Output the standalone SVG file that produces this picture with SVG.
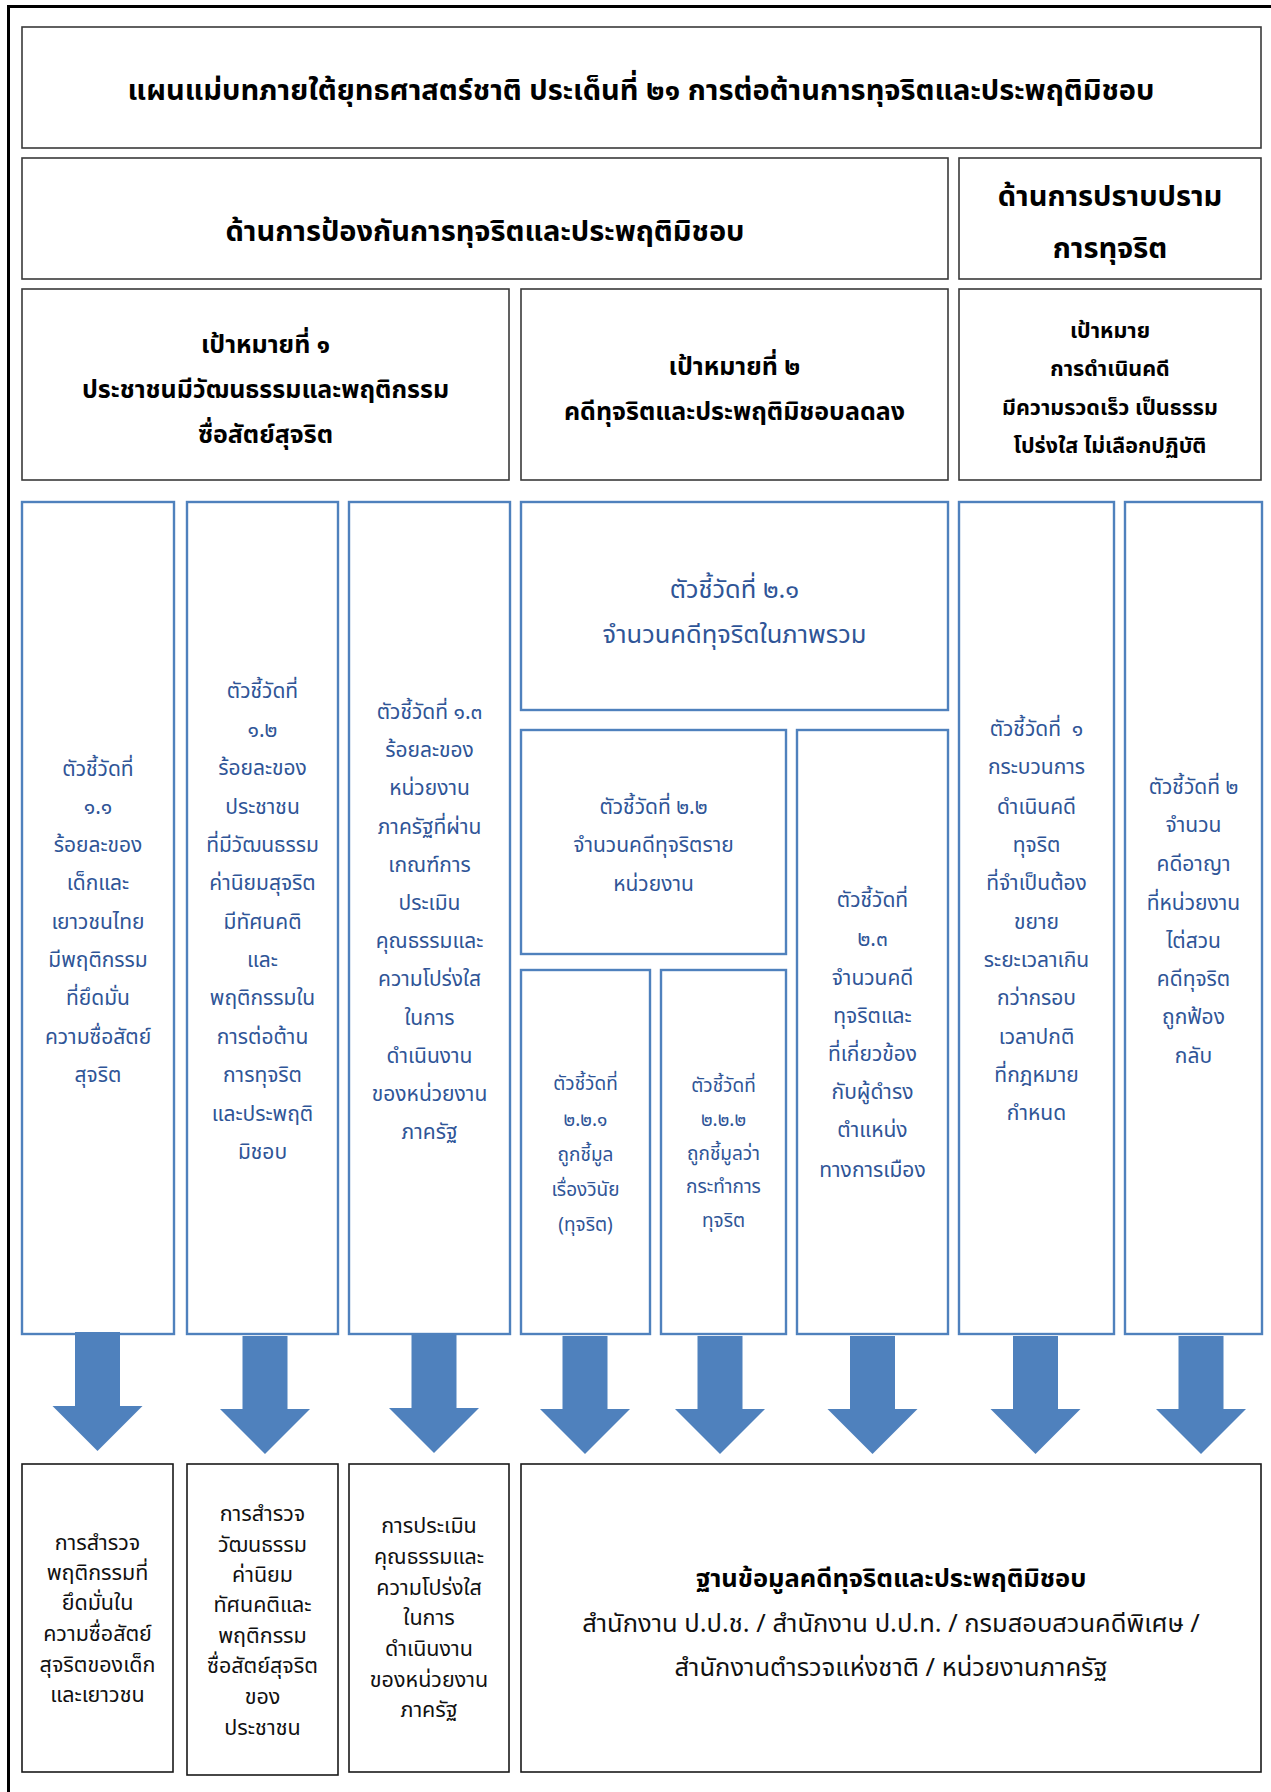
<svg xmlns="http://www.w3.org/2000/svg" width="1271" height="1792" viewBox="0 0 1271 1792">
<style>
.hb{fill:#fff;stroke:#3a3a3a;stroke-width:1.6}
.bb{fill:#fff;stroke:#4f81bd;stroke-width:2.4}
.kb{fill:#fff;stroke:#1a1a1a;stroke-width:1.6}
text{font-family:"Noto Sans Thai","Noto Sans",sans-serif;text-anchor:middle}
.h{fill:#000;font-weight:bold}
.t{fill:#2f5597;font-size:21px}
.k{fill:#111;font-size:21.5px}
.arr{fill:#4f81bd}
</style>
<rect width="1271" height="1792" fill="#fff"/>
<path d="M8.5,1792 V6.5 H1271" fill="none" stroke="#000" stroke-width="3"/>

<g id="title">
<rect class="hb" x="22" y="27" width="1239" height="121"/>
<text class="h" x="641" y="100" font-size="29">แผนแม่บทภายใต้ยุทธศาสตร์ชาติ ประเด็นที่ ๒๑ การต่อต้านการทุจริตและประพฤติมิชอบ</text>
</g>

<g id="prevention">
<rect class="hb" x="22" y="158" width="926" height="121"/>
<text class="h" x="485" y="241" font-size="29">ด้านการป้องกันการทุจริตและประพฤติมิชอบ</text>
</g>

<g id="suppression">
<rect class="hb" x="959" y="158" width="302" height="121"/>
<text class="h" x="1110" y="206" font-size="29">ด้านการปราบปราม</text>
<text class="h" x="1110" y="258" font-size="29">การทุจริต</text>
</g>

<g id="goal1">
<rect class="hb" x="22" y="289" width="487" height="191"/>
<text class="h" font-size="25"><tspan x="265.5" y="353">เป้าหมายที่ ๑</tspan><tspan x="265.5" y="398">ประชาชนมีวัฒนธรรมและพฤติกรรม</tspan><tspan x="265.5" y="443">ซื่อสัตย์สุจริต</tspan></text>
</g>

<g id="goal2">
<rect class="hb" x="521" y="289" width="427" height="191"/>
<text class="h" font-size="25"><tspan x="734.5" y="375">เป้าหมายที่ ๒</tspan><tspan x="734.5" y="420">คดีทุจริตและประพฤติมิชอบลดลง</tspan></text>
</g>

<g id="goal3">
<rect class="hb" x="959" y="289" width="302" height="191"/>
<text class="h" font-size="21.5"><tspan x="1110" y="338">เป้าหมาย</tspan><tspan x="1110" y="376">การดำเนินคดี</tspan><tspan x="1110" y="415">มีความรวดเร็ว เป็นธรรม</tspan><tspan x="1110" y="453">โปร่งใส ไม่เลือกปฏิบัติ</tspan></text>
</g>

<g id="ind11">
<rect class="bb" x="22" y="502" width="152" height="832"/>
<text class="t"><tspan x="98" y="776">ตัวชี้วัดที่</tspan><tspan x="98" y="814">๑.๑</tspan><tspan x="98" y="852">ร้อยละของ</tspan><tspan x="98" y="890">เด็กและ</tspan><tspan x="98" y="929">เยาวชนไทย</tspan><tspan x="98" y="967">มีพฤติกรรม</tspan><tspan x="98" y="1005">ที่ยึดมั่น</tspan><tspan x="98" y="1044">ความซื่อสัตย์</tspan><tspan x="98" y="1082">สุจริต</tspan></text>
</g>

<g id="ind12">
<rect class="bb" x="187" y="502" width="151" height="832"/>
<text class="t"><tspan x="262.5" y="698">ตัวชี้วัดที่</tspan><tspan x="262.5" y="737">๑.๒</tspan><tspan x="262.5" y="775">ร้อยละของ</tspan><tspan x="262.5" y="814">ประชาชน</tspan><tspan x="262.5" y="852">ที่มีวัฒนธรรม</tspan><tspan x="262.5" y="890">ค่านิยมสุจริต</tspan><tspan x="262.5" y="929">มีทัศนคติ</tspan><tspan x="262.5" y="967">และ</tspan><tspan x="262.5" y="1005">พฤติกรรมใน</tspan><tspan x="262.5" y="1044">การต่อต้าน</tspan><tspan x="262.5" y="1082">การทุจริต</tspan><tspan x="262.5" y="1121">และประพฤติ</tspan><tspan x="262.5" y="1159">มิชอบ</tspan></text>
</g>

<g id="ind13">
<rect class="bb" x="349" y="502" width="161" height="832"/>
<text class="t"><tspan x="429.5" y="719">ตัวชี้วัดที่ ๑.๓</tspan><tspan x="429.5" y="757">ร้อยละของ</tspan><tspan x="429.5" y="795">หน่วยงาน</tspan><tspan x="429.5" y="834">ภาครัฐที่ผ่าน</tspan><tspan x="429.5" y="872">เกณฑ์การ</tspan><tspan x="429.5" y="910">ประเมิน</tspan><tspan x="429.5" y="948">คุณธรรมและ</tspan><tspan x="429.5" y="986">ความโปร่งใส</tspan><tspan x="429.5" y="1025">ในการ</tspan><tspan x="429.5" y="1063">ดำเนินงาน</tspan><tspan x="429.5" y="1101">ของหน่วยงาน</tspan><tspan x="429.5" y="1139">ภาครัฐ</tspan></text>
</g>

<g id="ind21">
<rect class="bb" x="521" y="502" width="427" height="208"/>
<text class="t" style="font-size:25.5px"><tspan x="734.5" y="598">ตัวชี้วัดที่ ๒.๑</tspan><tspan x="734.5" y="643">จำนวนคดีทุจริตในภาพรวม</tspan></text>
</g>

<g id="ind22">
<rect class="bb" x="521" y="730" width="265" height="224"/>
<text class="t"><tspan x="653.5" y="814">ตัวชี้วัดที่ ๒.๒</tspan><tspan x="653.5" y="852">จำนวนคดีทุจริตราย</tspan><tspan x="653.5" y="891">หน่วยงาน</tspan></text>
</g>

<g id="ind221">
<rect class="bb" x="521" y="970" width="129" height="364"/>
<text class="t" style="font-size:19px"><tspan x="585.5" y="1090">ตัวชี้วัดที่</tspan><tspan x="585.5" y="1126">๒.๒.๑</tspan><tspan x="585.5" y="1161">ถูกชี้มูล</tspan><tspan x="585.5" y="1196">เรื่องวินัย</tspan><tspan x="585.5" y="1231">(ทุจริต)</tspan></text>
</g>

<g id="ind222">
<rect class="bb" x="661" y="970" width="125" height="364"/>
<text class="t" style="font-size:19px"><tspan x="723.5" y="1092">ตัวชี้วัดที่</tspan><tspan x="723.5" y="1126">๒.๒.๒</tspan><tspan x="723.5" y="1160">ถูกชี้มูลว่า</tspan><tspan x="723.5" y="1193">กระทำการ</tspan><tspan x="723.5" y="1227">ทุจริต</tspan></text>
</g>

<g id="ind23">
<rect class="bb" x="797" y="730" width="151" height="604"/>
<text class="t"><tspan x="872.5" y="907">ตัวชี้วัดที่</tspan><tspan x="872.5" y="946">๒.๓</tspan><tspan x="872.5" y="985">จำนวนคดี</tspan><tspan x="872.5" y="1023">ทุจริตและ</tspan><tspan x="872.5" y="1061">ที่เกี่ยวข้อง</tspan><tspan x="872.5" y="1099">กับผู้ดำรง</tspan><tspan x="872.5" y="1137">ตำแหน่ง</tspan><tspan x="872.5" y="1177">ทางการเมือง</tspan></text>
</g>

<g id="indS1">
<rect class="bb" x="959" y="502" width="155" height="832"/>
<text class="t"><tspan x="1036.5" y="736">ตัวชี้วัดที่&#160; ๑</tspan><tspan x="1036.5" y="774">กระบวนการ</tspan><tspan x="1036.5" y="814">ดำเนินคดี</tspan><tspan x="1036.5" y="852">ทุจริต</tspan><tspan x="1036.5" y="890">ที่จำเป็นต้อง</tspan><tspan x="1036.5" y="929">ขยาย</tspan><tspan x="1036.5" y="967">ระยะเวลาเกิน</tspan><tspan x="1036.5" y="1005">กว่ากรอบ</tspan><tspan x="1036.5" y="1044">เวลาปกติ</tspan><tspan x="1036.5" y="1082">ที่กฎหมาย</tspan><tspan x="1036.5" y="1120">กำหนด</tspan></text>
</g>

<g id="indS2">
<rect class="bb" x="1125" y="502" width="137" height="832"/>
<text class="t"><tspan x="1193.5" y="794">ตัวชี้วัดที่ ๒</tspan><tspan x="1193.5" y="832">จำนวน</tspan><tspan x="1193.5" y="871">คดีอาญา</tspan><tspan x="1193.5" y="910">ที่หน่วยงาน</tspan><tspan x="1193.5" y="948">ไต่สวน</tspan><tspan x="1193.5" y="986">คดีทุจริต</tspan><tspan x="1193.5" y="1024">ถูกฟ้อง</tspan><tspan x="1193.5" y="1063">กลับ</tspan></text>
</g>

<g id="connectors">
<polygon class="arr" points="75,1332 120,1332 120,1406 142.5,1406 97.5,1451 52.5,1406 75,1406"/>
<polygon class="arr" points="242.5,1336 287.5,1336 287.5,1409 310,1409 265,1454 220,1409 242.5,1409"/>
<polygon class="arr" points="411.5,1334 456.5,1334 456.5,1408 479,1408 434,1453 389,1408 411.5,1408"/>
<polygon class="arr" points="562.5,1336 607.5,1336 607.5,1409 630,1409 585,1454 540,1409 562.5,1409"/>
<polygon class="arr" points="697.5,1336 742.5,1336 742.5,1409 765,1409 720,1454 675,1409 697.5,1409"/>
<polygon class="arr" points="850,1336 895,1336 895,1409 917.5,1409 872.5,1454 827.5,1409 850,1409"/>
<polygon class="arr" points="1013,1336 1058,1336 1058,1409 1080.5,1409 1035.5,1454 990.5,1409 1013,1409"/>
<polygon class="arr" points="1178.5,1336 1223.5,1336 1223.5,1409 1246,1409 1201,1454 1156,1409 1178.5,1409"/>
</g>

<g id="out1">
<rect class="kb" x="22" y="1464" width="151" height="308"/>
<text class="k"><tspan x="97.5" y="1550">การสำรวจ</tspan><tspan x="97.5" y="1580">พฤติกรรมที่</tspan><tspan x="97.5" y="1610">ยึดมั่นใน</tspan><tspan x="97.5" y="1641">ความซื่อสัตย์</tspan><tspan x="97.5" y="1672">สุจริตของเด็ก</tspan><tspan x="97.5" y="1702">และเยาวชน</tspan></text>
</g>

<g id="out2">
<rect class="kb" x="187" y="1464" width="151" height="311"/>
<text class="k"><tspan x="262.5" y="1521">การสำรวจ</tspan><tspan x="262.5" y="1552">วัฒนธรรม</tspan><tspan x="262.5" y="1582">ค่านิยม</tspan><tspan x="262.5" y="1612">ทัศนคติและ</tspan><tspan x="262.5" y="1643">พฤติกรรม</tspan><tspan x="262.5" y="1673">ซื่อสัตย์สุจริต</tspan><tspan x="262.5" y="1704">ของ</tspan><tspan x="262.5" y="1735">ประชาชน</tspan></text>
</g>

<g id="out3">
<rect class="kb" x="349" y="1464" width="160" height="308"/>
<text class="k"><tspan x="429" y="1533">การประเมิน</tspan><tspan x="429" y="1564">คุณธรรมและ</tspan><tspan x="429" y="1595">ความโปร่งใส</tspan><tspan x="429" y="1625">ในการ</tspan><tspan x="429" y="1656">ดำเนินงาน</tspan><tspan x="429" y="1687">ของหน่วยงาน</tspan><tspan x="429" y="1717">ภาครัฐ</tspan></text>
</g>

<g id="database">
<rect class="kb" x="521" y="1464" width="740" height="308"/>
<text class="h" x="891" y="1587" font-size="25.5">ฐานข้อมูลคดีทุจริตและประพฤติมิชอบ</text>
<text class="k" style="font-size:25.5px"><tspan x="891" y="1632">สำนักงาน ป.ป.ช. / สำนักงาน ป.ป.ท. / กรมสอบสวนคดีพิเศษ /</tspan><tspan x="891" y="1676">สำนักงานตำรวจแห่งชาติ / หน่วยงานภาครัฐ</tspan></text>
</g>
</svg>
